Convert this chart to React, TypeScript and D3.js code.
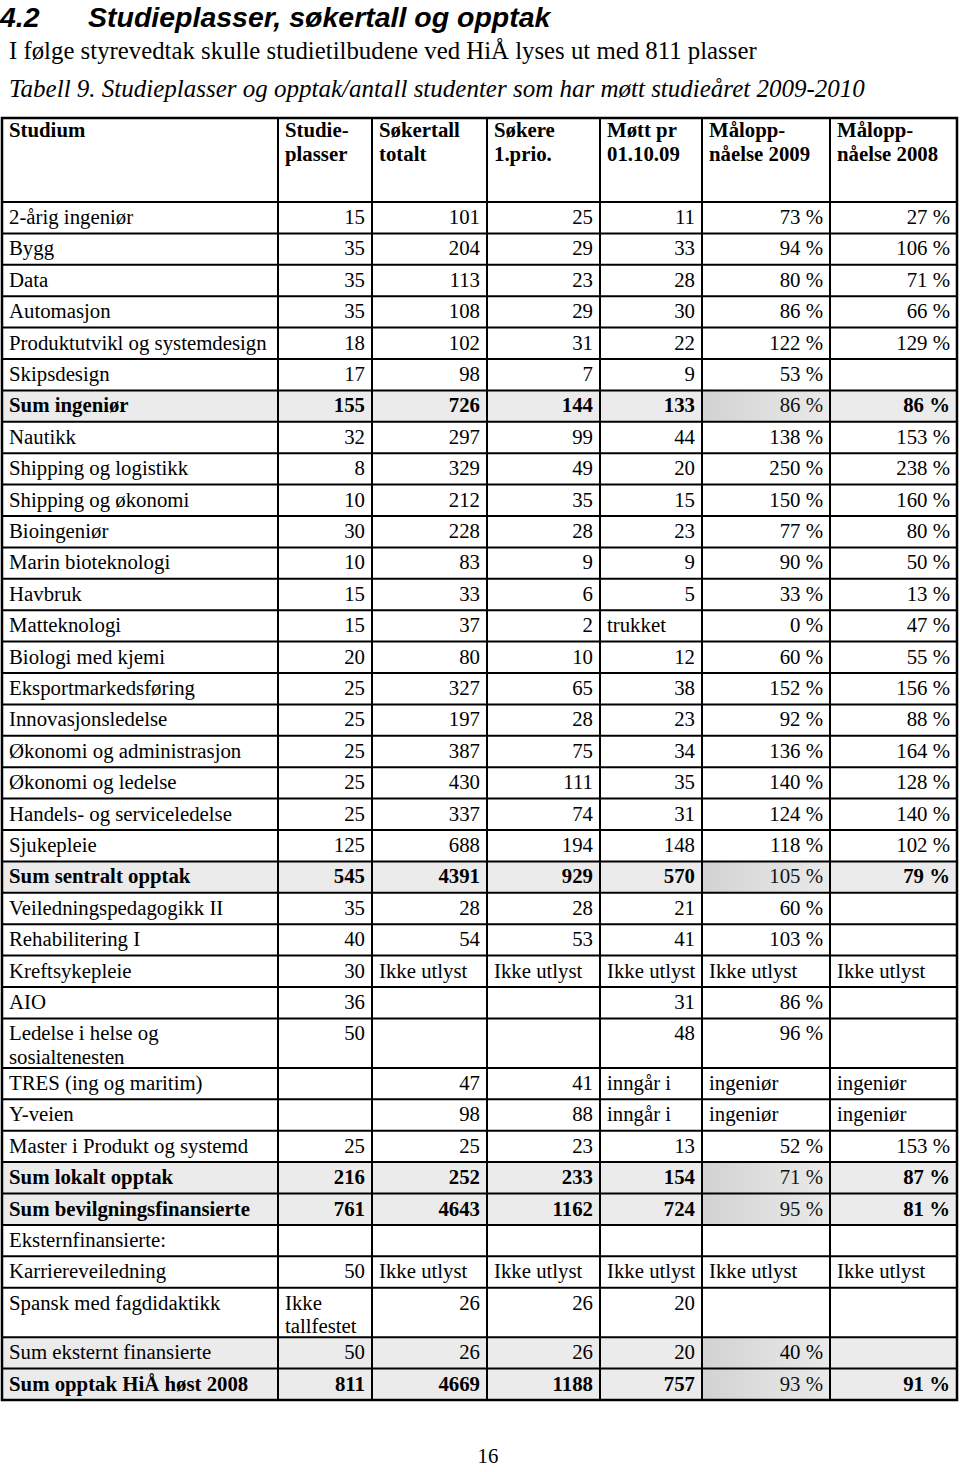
import React, { useEffect, useRef } from 'react';
import * as d3 from 'd3';

// table data
const headers = [
    ['Studium'],
    ['Studie-', 'plasser'],
    ['Søkertall', 'totalt'],
    ['Søkere', '1.prio.'],
    ['Møtt pr', '01.10.09'],
    ['Målopp-', 'nåelse 2009'],
    ['Målopp-', 'nåelse 2008'],
];

const studium = [
    '2-årig ingeniør', 'Bygg', 'Data', 'Automasjon', 'Produktutvikl og systemdesign', 'Skipsdesign',
    'Sum ingeniør', 'Nautikk', 'Shipping og logistikk', 'Shipping og økonomi', 'Bioingeniør',
    'Marin bioteknologi', 'Havbruk', 'Matteknologi', 'Biologi med kjemi', 'Eksportmarkedsføring',
    'Innovasjonsledelse', 'Økonomi og administrasjon', 'Økonomi og ledelse', 'Handels- og serviceledelse',
    'Sjukepleie', 'Sum sentralt opptak', 'Veiledningspedagogikk II', 'Rehabilitering I', 'Kreftsykepleie',
    'AIO', 'Ledelse i helse og|sosialtenesten', 'TRES (ing og maritim)', 'Y-veien',
    'Master i Produkt og systemd', 'Sum lokalt opptak', 'Sum bevilgningsfinansierte', 'Eksternfinansierte:',
    'Karriereveiledning', 'Spansk med fagdidaktikk', 'Sum eksternt finansierte', 'Sum opptak HiÅ høst 2008',
];

const studieplasser = [
    '15', '35', '35', '35', '18', '17', '155', '32', '8', '10', '30', '10', '15', '15', '20', '25', '25', '25',
    '25', '25', '125', '545', '35', '40', '30', '36', '50', '', '', '25', '216', '761', '', '50',
    'Ikke|tallfestet', '50', '811',
];

const sokertall = [
    '101', '204', '113', '108', '102', '98', '726', '297', '329', '212', '228', '83', '33', '37', '80', '327',
    '197', '387', '430', '337', '688', '4391', '28', '54', 'Ikke utlyst', '', '', '47', '98', '25', '252',
    '4643', '', 'Ikke utlyst', '26', '26', '4669',
];

const sokere1 = [
    '25', '29', '23', '29', '31', '7', '144', '99', '49', '35', '28', '9', '6', '2', '10', '65', '28', '75',
    '111', '74', '194', '929', '28', '53', 'Ikke utlyst', '', '', '41', '88', '23', '233', '1162', '',
    'Ikke utlyst', '26', '26', '1188',
];

const mott = [
    '11', '33', '28', '30', '22', '9', '133', '44', '20', '15', '23', '9', '5', 'trukket', '12', '38', '23',
    '34', '35', '31', '148', '570', '21', '41', 'Ikke utlyst', '31', '48', 'inngår i', 'inngår i', '13', '154',
    '724', '', 'Ikke utlyst', '20', '20', '757',
];

const mal2009 = [
    '73 %', '94 %', '80 %', '86 %', '122 %', '53 %', '86 %', '138 %', '250 %', '150 %', '77 %', '90 %',
    '33 %', '0 %', '60 %', '152 %', '92 %', '136 %', '140 %', '124 %', '118 %', '105 %', '60 %', '103 %',
    'Ikke utlyst', '86 %', '96 %', 'ingeniør', 'ingeniør', '52 %', '71 %', '95 %', '', 'Ikke utlyst', '',
    '40 %', '93 %',
];

const mal2008 = [
    '27 %', '106 %', '71 %', '66 %', '129 %', '', '86 %', '153 %', '238 %', '160 %', '80 %', '50 %', '13 %',
    '47 %', '55 %', '156 %', '88 %', '164 %', '128 %', '140 %', '102 %', '79 %', '', '', 'Ikke utlyst', '',
    '', 'ingeniør', 'ingeniør', '153 %', '87 %', '81 %', '', 'Ikke utlyst', '', '', '91 %',
];

const sumRows = ['Sum ingeniør', 'Sum sentralt opptak', 'Sum lokalt opptak', 'Sum bevilgningsfinansierte', 'Sum opptak HiÅ høst 2008'];
const greyRows = [...sumRows, 'Sum eksternt finansierte'];

const App = () => {
    const svgRef = useRef<SVGSVGElement>(null);

    useEffect(() => {
        const svg = d3.select(svgRef.current);
        svg.selectAll('*').remove();

        const serif = '"Liberation Serif", "Times New Roman", serif';
        const sans = '"Liberation Sans", Arial, sans-serif';
        const fs = 20.8;
        const colEdges = [2, 278, 372, 487, 600, 702, 830, 957];
        const headTop = 118;
        const headBottom = 202;
        const rowH = 31.4;
        const dblH = 49.5;

        const columns = [studium, studieplasser, sokertall, sokere1, mott, mal2009, mal2008];
        const rows = studium.map((name, i) => columns.map((c) => c[i]));
        const heights = rows.map((r) => (r.some((v) => v.includes('|')) ? dblH : rowH));
        const tops = [headBottom, ...Array.from(d3.cumsum(heights)).map((h) => headBottom + h)];
        const bottom = tops[tops.length - 1];

        // titles
        svg.append('text')
            .attr('x', 0).attr('y', 27)
            .style('font-family', sans)
            .style('font-weight', 'bold').style('font-style', 'italic')
            .style('font-size', '28.5px')
            .text('4.2');
        svg.append('text')
            .attr('x', 88).attr('y', 27)
            .style('font-family', sans)
            .style('font-weight', 'bold').style('font-style', 'italic')
            .style('font-size', '28.5px')
            .text('Studieplasser, søkertall og opptak');
        svg.append('text')
            .attr('x', 9).attr('y', 59)
            .style('font-family', serif).style('font-size', '24.8px')
            .text('I følge styrevedtak skulle studietilbudene ved HiÅ lyses ut med 811 plasser');
        svg.append('text')
            .attr('x', 9).attr('y', 97)
            .style('font-family', serif).style('font-size', '25px').style('font-style', 'italic')
            .text('Tabell 9. Studieplasser og opptak/antall studenter som har møtt studieåret 2009-2010');

        const defs = svg.append('defs');
        const grad = defs.append('linearGradient').attr('id', 'sumGrad').attr('x1', '0%').attr('x2', '100%');
        grad.append('stop').attr('offset', '0%').attr('stop-color', '#d2d2d2');
        grad.append('stop').attr('offset', '100%').attr('stop-color', '#eaeaea');

        // grey backgrounds for sum rows
        rows.forEach((r, i) => {
            if (!greyRows.includes(r[0])) return;
            svg.append('rect')
                .attr('x', colEdges[0]).attr('y', tops[i])
                .attr('width', colEdges[7] - colEdges[0]).attr('height', heights[i])
                .attr('fill', '#ebebeb');
            svg.append('rect')
                .attr('x', colEdges[5]).attr('y', tops[i])
                .attr('width', colEdges[6] - colEdges[5]).attr('height', heights[i])
                .attr('fill', 'url(#sumGrad)');
        });

        // header
        headers.forEach((lines, c) => {
            lines.forEach((l, k) => {
                svg.append('text')
                    .attr('x', colEdges[c] + 7).attr('y', headTop + 19 + k * 24)
                    .style('font-family', serif).style('font-size', `${fs}px`).style('font-weight', 'bold')
                    .text(l);
            });
        });

        const isNum = (v: string) => /^[\d\s%]+$/.test(v);

        rows.forEach((r, i) => {
            const bold = sumRows.includes(r[0]);
            r.forEach((v, c) => {
                if (!v) return;
                const right = c > 0 && isNum(v);
                v.split('|').forEach((line, k) => {
                    svg.append('text')
                        .attr('x', right ? colEdges[c + 1] - 7 : colEdges[c] + 7)
                        .attr('y', tops[i] + 22 + k * 23.5)
                        .attr('text-anchor', right ? 'end' : 'start')
                        .style('font-family', serif).style('font-size', `${fs}px`)
                        .style('font-weight', bold && c !== 5 ? 'bold' : 'normal')
                        .attr('fill', bold && c === 5 ? '#111' : '#000')
                        .text(line);
                });
            });
        });

        // grid lines
        const g = svg.append('g').attr('stroke', '#000').attr('stroke-width', 2);
        colEdges.forEach((x) => {
            g.append('line').attr('x1', x).attr('x2', x).attr('y1', headTop).attr('y2', bottom);
        });
        [headTop, ...tops].forEach((y) => {
            g.append('line').attr('x1', colEdges[0] - 1).attr('x2', colEdges[7] + 1).attr('y1', y).attr('y2', y);
        });
        g.append('rect')
            .attr('x', colEdges[0]).attr('y', headTop)
            .attr('width', colEdges[7] - colEdges[0]).attr('height', bottom - headTop)
            .attr('fill', 'none').attr('stroke-width', 2.5);

        svg.append('text')
            .attr('x', 488).attr('y', 1463).attr('text-anchor', 'middle')
            .style('font-family', serif).style('font-size', `${fs}px`)
            .text('16');
    }, []);

    return (
        <div style={{ position: 'absolute', top: 0, left: 0, width: 960, height: 1472, background: '#fff' }}>
            <svg ref={svgRef} width={960} height={1472} style={{ display: 'block' }} />
        </div>
    );
};

export default App;
